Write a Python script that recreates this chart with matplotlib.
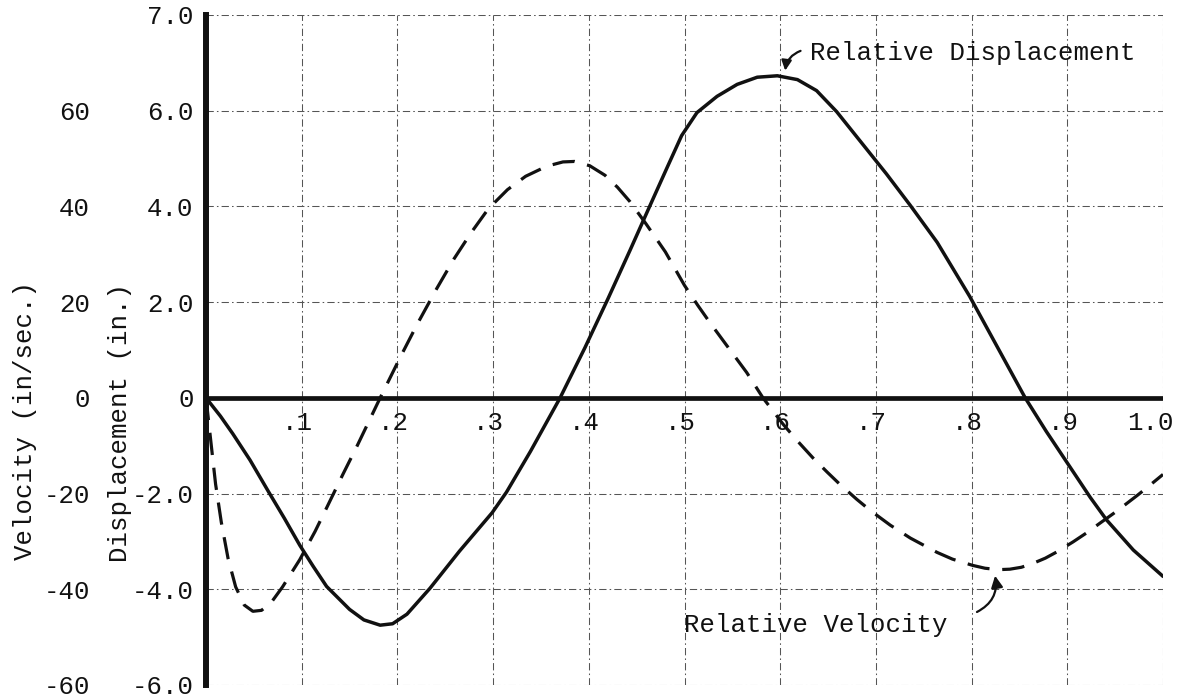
import matplotlib
matplotlib.use("Agg")
import matplotlib.pyplot as plt
from matplotlib.transforms import offset_copy
from matplotlib.patches import FancyArrowPatch

# Time (sec) and relative displacement (in.)
disp_t = [0.000, 0.015, 0.028, 0.046, 0.065, 0.082, 0.098, 0.112, 0.126, 0.150,
          0.165, 0.182, 0.195, 0.210, 0.234, 0.265, 0.299, 0.314, 0.339, 0.370,
          0.396, 0.420, 0.443, 0.464, 0.482, 0.497, 0.513, 0.534, 0.555, 0.576,
          0.597, 0.618, 0.638, 0.659, 0.683, 0.711, 0.736, 0.764, 0.798, 0.830,
          0.856, 0.878, 0.900, 0.924, 0.941, 0.969, 1.000]
disp_in = [0.00, -0.38, -0.75, -1.30, -1.95, -2.52, -3.08, -3.52, -3.94, -4.42,
           -4.64, -4.75, -4.72, -4.52, -3.98, -3.20, -2.40, -1.97, -1.12, 0.00,
           1.05, 2.07, 3.08, 4.02, 4.82, 5.48, 5.96, 6.30, 6.55, 6.70,
           6.73, 6.65, 6.42, 5.98, 5.38, 4.68, 4.02, 3.25, 2.12, 0.95,
           0.00, -0.70, -1.36, -2.08, -2.55, -3.18, -3.73]

# Time (sec) and relative velocity (in/sec)
vel_t = [0.000, 0.005, 0.010, 0.016, 0.023, 0.031, 0.040, 0.049, 0.058, 0.068,
         0.080, 0.098, 0.114, 0.126, 0.143, 0.158, 0.170, 0.182, 0.203, 0.221,
         0.241, 0.259, 0.277, 0.295, 0.315, 0.334, 0.356, 0.373, 0.385, 0.401,
         0.417, 0.430, 0.443, 0.460, 0.480, 0.500, 0.514, 0.527, 0.548, 0.565,
         0.582, 0.603, 0.618, 0.634, 0.649, 0.662, 0.680, 0.694, 0.715, 0.736,
         0.764, 0.780, 0.801, 0.814, 0.828, 0.840, 0.852, 0.864, 0.877, 0.889,
         0.906, 0.921, 0.934, 0.948, 0.958, 0.973, 0.983, 1.000]
vel_ips = [0.0, -9.0, -18.0, -26.0, -33.5, -39.5, -43.3, -44.6, -44.4, -42.8,
           -39.5, -33.8, -27.9, -23.0, -16.0, -10.0, -5.0, 0.0, 8.5, 15.5,
           22.8, 29.0, 34.5, 39.5, 43.5, 46.3, 48.4, 49.3, 49.4, 48.5,
           46.5, 44.0, 41.0, 36.3, 30.5, 23.5, 19.3, 15.6, 9.9, 5.3,
           0.0, -5.5, -9.0, -12.5, -15.5, -18.0, -21.2, -23.5, -26.6, -29.3,
           -32.3, -33.7, -35.0, -35.6, -35.9, -35.8, -35.4, -34.6, -33.5, -32.2,
           -30.1, -28.1, -26.2, -24.2, -22.7, -20.4, -18.8, -16.0]

x_ticks = [0.1, 0.2, 0.3, 0.4, 0.5, 0.6, 0.7, 0.8, 0.9, 1.0]
x_labels = [".1", ".2", ".3", ".4", ".5", ".6", ".7", ".8", ".9", "1.0"]
disp_ticks = [-6, -4, -2, 0, 2, 4, 6, 8]
disp_labels = ["-6.0", "-4.0", "-2.0", "0", "2.0", "4.0", "6.0", "7.0"]
vel_ticks = [-60, -40, -20, 0, 20, 40, 60]
vel_labels = ["-60", "-40", "-20", "0", "20", "40", "60"]

FONT = "Liberation Mono"
FS = 18.5
INK = "#111111"

fig = plt.figure(figsize=(11.84, 7.0), dpi=100)
ax = fig.add_axes([206 / 1184, 15 / 700, 957 / 1184, 670 / 700])
ax.set_xlim(0, 1.0)
ax.set_ylim(-6, 8)

# graph-paper grid
grid_kw = dict(color="#555555", lw=0.75, ls=(0, (7, 3, 1.5, 3)), zorder=1)
for xv in x_ticks:
    ax.axvline(xv, **grid_kw)
for yv in disp_ticks:
    if yv != 0:
        ax.axhline(yv, **grid_kw)

# axes frame: heavy left axis and heavy zero line
for side in ["top", "right", "bottom"]:
    ax.spines[side].set_visible(False)
ax.spines["left"].set_linewidth(4.3)
ax.spines["left"].set_color(INK)
ax.axhline(0, color=INK, lw=3.4, zorder=2)

ax.set_xticks([])
ax.set_yticks(disp_ticks)
ax.set_yticklabels(disp_labels, fontfamily=FONT, fontsize=FS, color=INK)
ax.tick_params(axis="y", length=0, pad=9)

# velocity scale shares the gridlines (1 in. of displacement = 10 in/sec)
sec = ax.secondary_yaxis(-0.121, functions=(lambda d: d * 10, lambda v: v / 10))
sec.set_yticks(vel_ticks)
sec.set_yticklabels(vel_labels, fontfamily=FONT, fontsize=FS, color=INK)
sec.tick_params(axis="y", length=0, pad=0)
sec.spines["left"].set_visible(False)

# time labels sit just under the zero line
for xv, lab in zip(x_ticks, x_labels):
    tr = offset_copy(ax.transData, fig=fig, x=11, y=-25, units="dots")
    ax.text(xv, 0, lab, transform=tr, ha="right", va="center",
            fontfamily=FONT, fontsize=FS, color=INK)

# curves
ax.plot(disp_t, disp_in, color=INK, lw=2.5, solid_joinstyle="round",
        solid_capstyle="round", zorder=3)
ax.plot(vel_t, [v / 10 for v in vel_ips], color=INK, lw=2.3,
        dashes=(7, 4), dash_joinstyle="round", zorder=3)

# curve labels with pointers
ax.text(0.631, 7.21, "Relative Displacement", ha="left", va="center",
        fontfamily=FONT, fontsize=FS, color=INK)
ax.add_patch(FancyArrowPatch((0.624, 7.27), (0.605, 6.78),
                             connectionstyle="arc3,rad=0.35",
                             arrowstyle="-|>,head_length=6,head_width=3",
                             color=INK, lw=1.6, zorder=4))
ax.text(0.500, -4.75, "Relative Velocity", ha="left", va="center",
        fontfamily=FONT, fontsize=FS, color=INK)
ax.add_patch(FancyArrowPatch((0.803, -4.5), (0.824, -3.66),
                             connectionstyle="arc3,rad=0.4",
                             arrowstyle="-|>,head_length=7,head_width=3.5",
                             color=INK, lw=1.6, zorder=4))

# rotated axis titles
fig.text(25 / 1184, 1 - 420 / 700, "Velocity (in/sec.)", rotation=90,
         ha="center", va="center", fontfamily=FONT, fontsize=FS, color=INK)
fig.text(120 / 1184, 1 - 423 / 700, "Displacement (in.)", rotation=90,
         ha="center", va="center", fontfamily=FONT, fontsize=FS, color=INK)

fig.savefig("out.png", dpi=100, facecolor="white")
